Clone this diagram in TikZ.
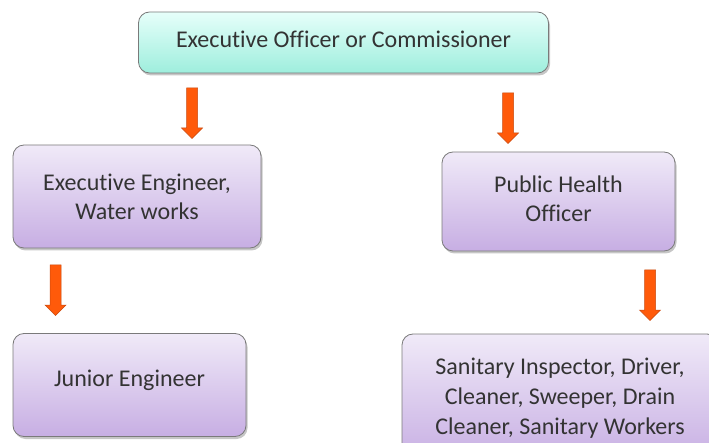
\documentclass[tikz,border=0pt]{standalone}
\usepackage{fontspec}
\setmainfont{Carlito}[Ligatures=NoCommon]
\usetikzlibrary{shadows}
\definecolor{txt}{HTML}{333333}
\definecolor{cyantop}{HTML}{E6FFFA}
\definecolor{cyanbot}{HTML}{9EEEDD}
\definecolor{purtop}{HTML}{F0EAF8}
\definecolor{purbot}{HTML}{C7AEE3}
\definecolor{boxline}{HTML}{7A7A7A}
\definecolor{arrfill}{HTML}{FF5A0A}
\definecolor{arrline}{HTML}{C84A10}
\tikzset{
  orgbox/.style={draw=boxline, line width=0.8pt, rounded corners=11pt,
    align=center, text=txt, font=\fontsize{24}{29}\selectfont,
    inner sep=0pt, drop shadow={shadow xshift=1.5pt, shadow yshift=-2.5pt, opacity=0.45, fill=gray}},
  cyanbox/.style={orgbox, top color=cyantop, bottom color=cyanbot},
  purbox/.style={orgbox, top color=purtop, bottom color=purbot},
  lift/.style={execute at end node={\rule[-#1]{0pt}{0pt}}},
  blockarrow/.style={fill=arrfill, draw=arrline, line width=0.5pt, line join=miter}
}
\newcommand{\downarrowat}[1]{%
  \path[blockarrow] (#1) ++(-5.5,0) -- ++(11,0) -- ++(0,-40) -- ++(5,0)
     -- ++(-10.5,-10.5) -- ++(-10.5,10.5) -- ++(5,0) -- cycle;}
\begin{document}
\begin{tikzpicture}[x=1pt,y=1pt]
\useasboundingbox (0,0) rectangle (709,442);
\node[cyanbox, lift=6pt, minimum width=410pt, minimum height=61pt] (eo) at (343.5,399.5) {Executive Officer or Commissioner};
\node[purbox, minimum width=248pt, minimum height=103pt] (ee) at (137,245.5) {Executive Engineer,\\Water works};
\node[purbox, lift=5pt, minimum width=233pt, minimum height=99pt] (pho) at (558.5,240.5) {Public Health\\Officer};
\node[purbox, lift=14pt, minimum width=233pt, minimum height=103pt] (je) at (129.5,57) {Junior Engineer};
\node[purbox, font=\fontsize{24}{30}\selectfont, minimum width=316pt, minimum height=128pt] (si) at (560,44) {Sanitary Inspector, Driver,\\Cleaner, Sweeper, Drain\\Cleaner, Sanitary Workers};
\coordinate (a1) at (192,354);
\coordinate (a2) at (508,349);
\coordinate (a3) at (55.5,177);
\coordinate (a4) at (650,172);
\downarrowat{a1}
\downarrowat{a2}
\downarrowat{a3}
\downarrowat{a4}
\end{tikzpicture}
\end{document}
